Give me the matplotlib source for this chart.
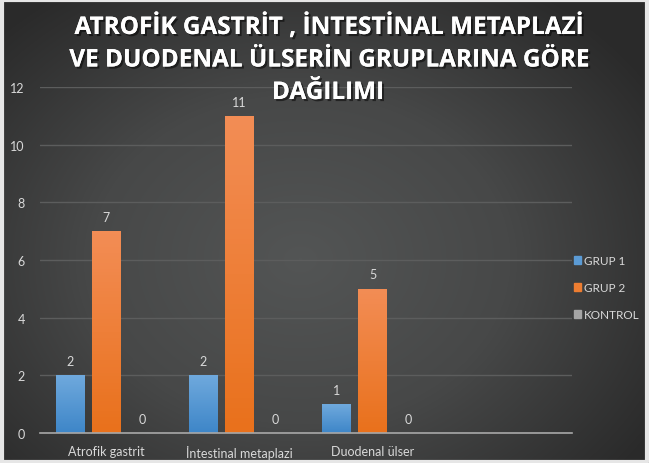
#!/usr/bin/env python3

import matplotlib

matplotlib.use("Agg")
import matplotlib.pyplot as plt
import matplotlib.patheffects as pe
import numpy as np
from matplotlib.colors import LinearSegmentedColormap

TITLE_LINES = ["ATROFİK GASTRİT , İNTESTİNAL METAPLAZİ", "VE DUODENAL ÜLSERİN GRUPLARINA GÖRE", "DAĞILIMI"]
CATEGORIES = ["Atrofik gastrit", "İntestinal metaplazi", "Duodenal ülser", ""]
SERIES = ["GRUP 1", "GRUP 2", "KONTROL"]
GRUP1 = [2, 2, 1, None]
GRUP2 = [7, 11, 5, None]
KONTROL = [0, 0, 0, None]
Y_TICKS = [0, 2, 4, 6, 8, 10, 12]

COLORS = {"GRUP 1": ("#6fa9dd", "#3e86c8"), "GRUP 2": ("#f38d55", "#e9711c"), "KONTROL": ("#b0b0b0", "#8c8c8c")}
LEGEND_COLORS = {"GRUP 1": "#5b9bd5", "GRUP 2": "#ed7d31", "KONTROL": "#a5a5a5"}
TEXT_COLOR = "#d9d9d9"
FONT = "Lato"


def draw_background(fig):
    bg = fig.add_axes([0, 0, 1, 1], zorder=-10)
    h, w = 464, 649
    yy, xx = np.mgrid[0:h, 0:w]
    d = np.sqrt(((xx - 300) / 420.0) ** 2 + ((yy - 260) / 330.0) ** 2)
    d = np.clip(d, 0, 1)
    cmap = LinearSegmentedColormap.from_list("bg", ["#535555", "#474848", "#2a2a2a"])
    bg.imshow(d, cmap=cmap, aspect="auto", extent=[0, 1, 0, 1], origin="upper")
    bg.set_xlim(0, 1)
    bg.set_ylim(0, 1)
    bg.axis("off")
    # thin light frame around the picture
    bg.plot([0.003, 0.003, 0.997, 0.997, 0.003], [0.003, 0.997, 0.997, 0.003, 0.003],
            color="#e6e6e6", lw=3, transform=bg.transAxes, clip_on=False)


def gradient_bar(ax, patch, top_color, bottom_color):
    x0, y0 = patch.get_x(), patch.get_y()
    w, h = patch.get_width(), patch.get_height()
    if h <= 0:
        return
    cmap = LinearSegmentedColormap.from_list("bar", [bottom_color, top_color])
    grad = np.linspace(0, 1, 64).reshape(-1, 1)
    im = ax.imshow(grad, cmap=cmap, aspect="auto", origin="lower",
                   extent=[x0, x0 + w, y0, y0 + h], zorder=3)
    im.set_clip_path(patch)


def main():
    fig = plt.figure(figsize=(6.49, 4.64), dpi=100)
    draw_background(fig)

    ax = fig.add_axes([0.0616, 0.0647, 0.8198, 0.7456])
    ax.patch.set_alpha(0)

    x = np.arange(len(CATEGORIES))
    width = 0.218
    step = 0.271
    handles = []
    for i, (name, values) in enumerate(zip(SERIES, [GRUP1, GRUP2, KONTROL])):
        vals = [v if v is not None else 0 for v in values]
        xs = x + (i - 1) * step
        bars = ax.bar(xs, vals, width, color=LEGEND_COLORS[name], zorder=2, label=name)
        for bar, v in zip(bars, values):
            if v is None:
                bar.set_visible(False)
                continue
            top, bottom = COLORS[name]
            gradient_bar(ax, bar, top, bottom)
            ax.annotate(str(v), (bar.get_x() + bar.get_width() / 2, bar.get_height()),
                        xytext=(0, 6), textcoords="offset points", ha="center", va="bottom",
                        color=TEXT_COLOR, fontsize=9, family=FONT)
        handles.append(plt.Rectangle((0, 0), 1, 1, color=LEGEND_COLORS[name]))

    ax.set_xlim(-0.5, len(CATEGORIES) - 0.5)
    ax.set_ylim(0, 12)
    ax.set_yticks(Y_TICKS)
    ax.set_xticks(x)
    ax.set_xticklabels(CATEGORIES)
    ax.tick_params(axis="both", length=0, colors=TEXT_COLOR, labelsize=9)
    ax.tick_params(axis="y", pad=11)
    ax.tick_params(axis="x", pad=9)
    for lab in ax.get_xticklabels() + ax.get_yticklabels():
        lab.set_family(FONT)
    ax.grid(axis="y", color="#5c5d5d", lw=1, zorder=0)
    for side in ["top", "right", "left"]:
        ax.spines[side].set_visible(False)
    ax.spines["bottom"].set_color("#a8a8a8")
    ax.spines["bottom"].set_linewidth(1.2)
    ax.spines["bottom"].set_zorder(4)

    leg = fig.legend(handles, SERIES, loc="center left", bbox_to_anchor=(0.884, 0.378),
                     frameon=False, handlelength=0.6, handleheight=0.6, handletextpad=0.3,
                     labelspacing=1.35, borderpad=0, borderaxespad=0,
                     prop={"family": FONT, "size": 8.5})
    for t in leg.get_texts():
        t.set_color(TEXT_COLOR)

    # title drawn line by line so each line keeps its own box
    shadow = [pe.withSimplePatchShadow(offset=(1.5, -1.5), shadow_rgbFace="black", alpha=0.5), pe.Normal()]
    for k, line in enumerate(TITLE_LINES):
        fig.text(0.505, 1 - (29 + 32.5 * k) / 464, line, ha="center", va="center", color="white",
                 fontsize=17.5, fontweight="bold", family="Open Sans", path_effects=shadow)

    fig.savefig("out.png", dpi=100)
    plt.close(fig)
    return 0


if __name__ == "__main__":
    raise SystemExit(main())
